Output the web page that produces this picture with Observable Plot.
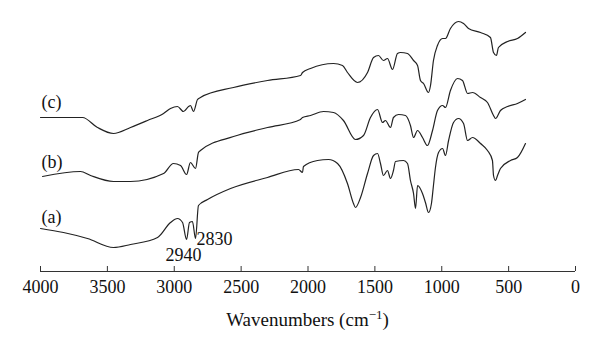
<!DOCTYPE html>
<html>
<head>
<meta charset="utf-8">
<script src="https://cdn.jsdelivr.net/npm/d3@7"></script>
<script src="https://cdn.jsdelivr.net/npm/@observablehq/plot@0.6"></script>
<style>
  html, body { margin: 0; padding: 0; background: #fff; }
  #chart { width: 600px; height: 355px; }
  #chart svg text { font-family: "Liberation Serif", "Times New Roman", serif; }
</style>
</head>
<body>
<div id="chart"></div>
<script>
// Wavenumbers (cm^-1) and relative transmittance (arbitrary, offset)
const wnA = [4000,3828,3649,3454,3327,3125,3028,2976,2938,2908,2886,2864,2841,2819,2751,2579,2303,2071,2041,2034,1929,1847,1779,1705,1660,1645,1607,1555,1510,1480,1458,1436,1406,1383,1361,1346,1286,1256,1234,1211,1196,1181,1144,1122,1099,1077,1062,1047,1024,994,972,949,912,875,837,807,770,710,658,621,613,598,583,561,486,434,374];
const tA  = [43,39,33,24,27,34,49,53,49,32,49,50,33,66,72,83,94,102,99,105,111,112,108,88,68,64,74,98,116,118,108,96,101,93,101,110,111,108,91,78,63,86,78,69,59,68,86,104,119,123,116,131,149,153,148,131,134,128,121,111,96,91,96,103,111,114,128];

const wnB = [3985,3701,3626,3454,3327,3080,3006,2953,2908,2879,2841,2819,2804,2557,2303,2056,2041,1981,1884,1809,1735,1645,1585,1533,1480,1443,1421,1383,1361,1323,1271,1234,1211,1181,1144,1107,1069,1032,994,972,935,882,845,807,770,710,658,613,598,561,508,434,374];
const tB  = [95,100,96,90,90,98,108,106,97,109,103,119,121,135,144,152,154,156,160,159,151,132,136,154,162,149,151,144,154,157,156,146,134,141,134,126,141,161,166,164,181,193,191,178,179,174,169,156,153,161,165,168,172];

const wnC = [4000,3686,3574,3454,3327,3200,3080,3028,2976,2931,2893,2879,2856,2826,2804,2557,2303,2056,2041,1981,1809,1742,1705,1630,1555,1510,1473,1436,1406,1368,1331,1308,1256,1211,1181,1159,1136,1099,1084,1062,1032,994,972,935,875,837,800,710,636,613,591,576,508,434,374];
const tC  = [154,154,144,138,144,151,158,163,165,160,165,166,160,172,174,184,191,196,199,203,208,206,199,189,199,214,216,211,213,202,218,219,218,211,206,191,188,179,186,211,226,233,233,243,250,248,243,239,234,219,216,224,230,233,239];

const tickValues = [4000,3500,3000,2500,2000,1500,1000,500,0];

const curveNames = ["(a)","(b)","(c)"];
const curveLabelX = [3992,3992,3992];
const curveLabelY = [54,109,169];

const peakNames = ["2940","2830"];
const peakX = [2931,2834];
const peakY = [16,32];
const peakAnchor = ["middle","start"];

const series = [
  wnA.map((w,i) => ({wn: w, t: tA[i], s: "a"})),
  wnB.map((w,i) => ({wn: w, t: tB[i], s: "b"})),
  wnC.map((w,i) => ({wn: w, t: tC[i], s: "c"}))
].flat();

const curveLabels = curveNames.map((n,i) => ({n, x: curveLabelX[i], y: curveLabelY[i]}));
const peakLabels = peakNames.map((n,i) => ({n, x: peakX[i], y: peakY[i], a: peakAnchor[i]}));

const font = "Liberation Serif, Times New Roman, serif";

const plot = Plot.plot({
  width: 600,
  height: 355,
  marginLeft: 40,
  marginRight: 25,
  marginTop: 20,
  marginBottom: 84,
  style: {fontFamily: font, fontSize: "18px", color: "#111", background: "#fff"},
  x: {domain: [4000, 0], label: null},
  y: {domain: [0, 251], axis: null},
  marks: [
    Plot.ruleY([0], {x1: 4000, x2: 0, stroke: "#333", strokeWidth: 1}),
    Plot.ruleX(tickValues, {x: d => d, y1: 0, y2: 5, stroke: "#333", strokeWidth: 1}),
    Plot.axisX({ticks: tickValues, tickSize: 0, tickPadding: 9, tickFormat: d => String(d), label: null, fontSize: 18, fontFamily: font, fill: "#111"}),
    Plot.line(series, {x: "wn", y: "t", z: "s", stroke: "#222", strokeWidth: 1.2, curve: "monotone-x"}),
    Plot.text(curveLabels, {x: "x", y: "y", text: "n", textAnchor: "start", fontSize: 18, fontFamily: font, fill: "#111"}),
    ...peakLabels.map(p => Plot.text([p], {x: "x", y: "y", text: "n", textAnchor: p.a, fontSize: 18, fontFamily: font, fill: "#111"}))
  ]
});

// Axis title with a real superscript
const svg = d3.select(plot);
const title = svg.append("text")
  .attr("x", 307.5)
  .attr("y", 326)
  .attr("text-anchor", "middle")
  .attr("font-family", font)
  .attr("font-size", 19)
  .attr("fill", "#111");
title.append("tspan").text("Wavenumbers (cm");
title.append("tspan").attr("dy", -7).attr("font-size", 13).text("\u22121");
title.append("tspan").attr("dy", 7).text(")");

document.getElementById("chart").appendChild(plot);
</script>
</body>
</html>
